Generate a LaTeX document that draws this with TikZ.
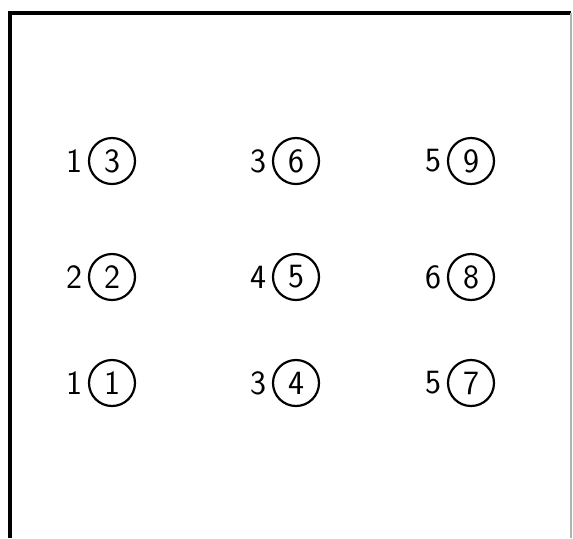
\documentclass[tikz,border=0pt]{standalone}
\usepackage{tikz}
\usetikzlibrary{positioning}

\begin{document}
\begin{tikzpicture}[
  x=0.5pt,y=-0.5pt,
  hole/.style={circle,draw,line width=1.1pt,minimum size=23pt,inner sep=0pt,
               font=\sffamily\fontsize{17}{17}\selectfont},
  num/.style={font=\sffamily\fontsize{17}{17}\selectfont,inner sep=0pt},
  node distance=2.5pt]
\useasboundingbox (0,0) rectangle (573,538);
% frame
\draw[line width=2pt] (10,538) -- (10,13) -- (571,13);
\draw[line width=0.6pt,black!30] (571,13) -- (571,538);
% top row
\node[hole] (c3) at (112,161) {3};
\node[hole] (c6) at (296,161) {6};
\node[hole] (c9) at (471,161) {9};
% middle row
\node[hole] (c2) at (112,277) {2};
\node[hole] (c5) at (296,277) {5};
\node[hole] (c8) at (471,277) {8};
% bottom row
\node[hole] (c1) at (112,383) {1};
\node[hole] (c4) at (296,383) {4};
\node[hole] (c7) at (471,383) {7};
% labels
\node[num,left=of c3] (l3) {1};
\node[num,left=of c6] (l6) {3};
\node[num,left=of c9] (l9) {5};
\node[num,left=of c2] (l2) {2};
\node[num,left=of c5] (l5) {4};
\node[num,left=of c8] (l8) {6};
\node[num,left=of c1] (l1) {1};
\node[num,left=of c4] (l4) {3};
\node[num,left=of c7] (l7) {5};
\end{tikzpicture}
\end{document}
